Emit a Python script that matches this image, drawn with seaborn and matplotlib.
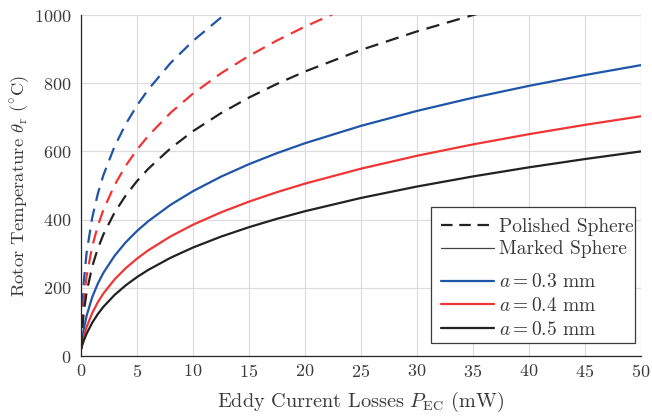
import numpy as np
import pandas as pd
import matplotlib
matplotlib.use("Agg")
import matplotlib.pyplot as plt
import seaborn as sns
from matplotlib.lines import Line2D
from matplotlib.patches import Rectangle

# ---- data ----
p_solid = [0, 0.1, 0.25, 0.5, 1, 1.5, 2, 3, 4, 5, 6, 8, 10, 12.5, 15, 17.5,
           20, 25, 30, 35, 40, 45, 50]
marked_a03 = [20, 47.6, 79.1, 118.0, 172.4, 212.1, 243.9, 294.0, 333.6, 366.6,
              395.2, 443.4, 483.4, 525.9, 562.6, 594.9, 624.0, 674.9, 718.7,
              757.4, 792.2, 823.9, 853.0]
marked_a04 = [20, 36.5, 57.1, 84.7, 126.1, 157.6, 183.4, 224.7, 257.8, 285.6,
              309.8, 350.8, 384.9, 421.3, 452.7, 480.5, 505.5, 549.4, 587.2,
              620.5, 650.5, 677.9, 703.0]
marked_a05 = [20, 30.8, 45.1, 65.4, 97.5, 122.9, 144.3, 179.1, 207.4, 231.4,
              252.4, 288.1, 318.1, 350.1, 377.8, 402.4, 424.6, 463.5, 497.0,
              526.6, 553.3, 577.6, 600.0]

p_pol_a03 = [0, 0.1, 0.25, 0.5, 1, 1.5, 2, 3, 4, 5, 6, 8, 10, 12.5, 15]
polished_a03 = [20, 135.4, 218.8, 302.5, 405.5, 475.8, 530.4, 614.8, 680.3,
                734.5, 781.2, 859.4, 924.1, 992.5, 1051.4]
p_pol_a04 = [0, 0.1, 0.25, 0.5, 1, 1.5, 2, 3, 4, 5, 6, 8, 10, 12.5, 15, 17.5,
             20, 22.5, 25]
polished_a04 = [20, 98.8, 164.7, 234.0, 321.3, 381.5, 428.5, 501.4, 558.1,
                605.0, 645.5, 713.4, 769.6, 829.0, 880.2, 925.3, 965.9, 1002.8,
                1036.7]
p_pol_a05 = [0, 0.1, 0.25, 0.5, 1, 1.5, 2, 3, 4, 5, 6, 8, 10, 12.5, 15, 17.5,
             20, 25, 30, 35, 40]
polished_a05 = [20, 76.1, 128.8, 187.0, 262.4, 315.0, 356.4, 420.9, 471.1,
                512.9, 548.8, 609.2, 659.3, 712.3, 757.9, 798.1, 834.3, 897.5,
                951.9, 999.9, 1043.0]

radii = ["a = 0.3 mm", "a = 0.4 mm", "a = 0.5 mm"]
x_ticks = [0, 5, 10, 15, 20, 25, 30, 35, 40, 45, 50]
y_ticks = [0, 200, 400, 600, 800, 1000]

colors = {"a = 0.3 mm": "#1f55a8", "a = 0.4 mm": "#f03535", "a = 0.5 mm": "#222222"}

# ---- style ----
sns.set_theme(style="white")
plt.rcParams.update({
    "font.family": "serif",
    "font.serif": ["cmr10", "DejaVu Serif"],
    "mathtext.fontset": "cm",
    "axes.formatter.use_mathtext": True,
    "axes.unicode_minus": False,
})
TXT = "#3a3a3a"

fig = plt.figure(figsize=(6.52, 4.19), dpi=100)
ax = fig.add_axes([81 / 652, 1 - 356 / 419, 560 / 652, 341 / 419])

frames = []
for r, xs, ys in zip(radii, [p_solid] * 3, [marked_a03, marked_a04, marked_a05]):
    frames.append(pd.DataFrame({"P": xs, "T": ys, "radius": r, "surface": "Marked"}))
for r, xs, ys in zip(radii, [p_pol_a03, p_pol_a04, p_pol_a05],
                     [polished_a03, polished_a04, polished_a05]):
    frames.append(pd.DataFrame({"P": xs, "T": ys, "radius": r, "surface": "Polished"}))
df = pd.concat(frames, ignore_index=True)

for (r, s), g in df.groupby(["radius", "surface"]):
    sns.lineplot(data=g, x="P", y="T", color=colors[r], lw=1.6, ax=ax,
                 dashes=False, legend=False, sort=False, estimator=None,
                 linestyle=(0, (6, 3.6)) if s == "Polished" else "-")

ax.set_xlim(0, 50)
ax.set_ylim(0, 1000)
ax.set_xticks(x_ticks)
ax.set_yticks(y_ticks)
ax.grid(True, color="#dcdcdc", lw=0.9)
ax.set_axisbelow(True)
for side in ["top", "right"]:
    ax.spines[side].set_visible(False)
for side in ["left", "bottom"]:
    ax.spines[side].set_color("#262626")
    ax.spines[side].set_linewidth(0.9)
ax.tick_params(direction="in", length=4, width=0.8, color="#262626",
               labelsize=13, labelcolor=TXT, pad=5)
ax.tick_params(axis="y", pad=7)
ax.set_xlabel(r"Eddy Current Losses $P_{\mathrm{EC}}$ (mW)", fontsize=14.6, color=TXT, labelpad=7)
ax.set_ylabel(r"Rotor Temperature $\theta_{\mathrm{r}}$ ($^{\circ}$C)", fontsize=13.4, color=TXT, labelpad=2)

# ---- legend ----
frame = Rectangle((0.625, 0.037), 0.364, 0.401, transform=ax.transAxes,
                  facecolor="white", edgecolor="#3a3a3a", lw=0.9, zorder=5)
ax.add_patch(frame)

FS = 14
h1 = [Line2D([], [], color="#222222", lw=1.6, linestyle=(0, (5.2, 3.0))),
      Line2D([], [], color="#444444", lw=0.9)]
leg1 = ax.legend(h1, ["Polished Sphere", "Marked Sphere"], loc="upper left",
                 bbox_to_anchor=(0.6185, 0.446), frameon=False, fontsize=FS,
                 handlelength=2.75, handletextpad=0.25, labelspacing=0.25,
                 borderpad=0.2, labelcolor=TXT)
leg1.set_zorder(6)
ax.add_artist(leg1)
h2 = [Line2D([], [], color=colors[r], lw=1.6) for r in radii]
l2 = [r"$a = 0.3$ mm", r"$a = 0.4$ mm", r"$a = 0.5$ mm"]
leg2 = ax.legend(h2, l2, loc="upper left", bbox_to_anchor=(0.6185, 0.282),
                 frameon=False, fontsize=FS, handlelength=2.75,
                 handletextpad=0.25, labelspacing=0.3, borderpad=0.2,
                 labelcolor=TXT)
leg2.set_zorder(6)

fig.savefig("out.png", dpi=100)
